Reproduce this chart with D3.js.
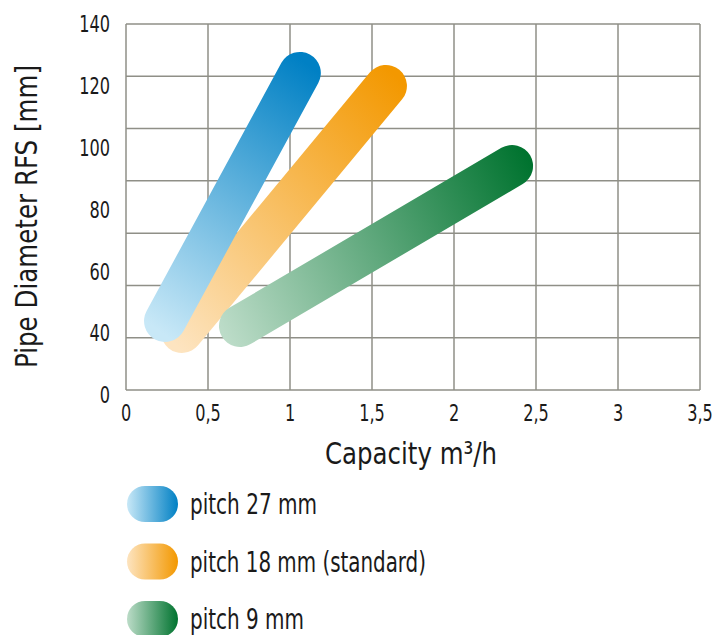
<!DOCTYPE html>
<html>
<head>
<meta charset="utf-8">
<script src="https://cdn.jsdelivr.net/npm/d3@7"></script>
<style>
  body { margin: 0; background: #fff; }
  text { font-family: "Liberation Sans Narrow", "DejaVu Sans Condensed", sans-serif; fill: #1a1a1a; }
</style>
</head>
<body>
<svg id="chart" width="716" height="635"></svg>
<script>
// chart data
var xTicks = [0, 0.5, 1, 1.5, 2, 2.5, 3, 3.5];
var xTickLabels = ['0', '0,5', '1', '1,5', '2', '2,5', '3', '3,5'];
var yGrid = [0, 20, 40, 60, 80, 100, 120, 140];
var yTickLabels = ['140', '120', '100', '80', '60', '40', '0'];

var seriesNames = ['pitch 18 mm (standard)', 'pitch 9 mm', 'pitch 27 mm'];
var pitch18 = [[0.341, 22.2], [1.585, 116.3]];
var pitch9 = [[0.695, 24.5], [2.354, 85.7]];
var pitch27 = [[0.238, 26.4], [1.06, 121.3]];
var legendOrder = ['pitch 27 mm', 'pitch 18 mm (standard)', 'pitch 9 mm'];
var legendWidths = [127, 236, 114];

var colors = {
  'pitch 27 mm': ['#c8e8f7', '#0080c4'],
  'pitch 18 mm (standard)': ['#fde4c0', '#f39800'],
  'pitch 9 mm': ['#bcdcc8', '#00732f']
};

var margin = {left: 126, right: 16, top: 24, bottom: 245};
var width = 716, height = 635;

var svg = d3.select('#chart');
var defs = svg.append('defs');

var x = d3.scaleLinear().domain([0, 3.5]).range([margin.left, width - margin.right]);
var y = d3.scaleLinear().domain([0, 140]).range([height - margin.bottom, margin.top]);
// tick labels in the original sit evenly over the height, not on the grid lines
var yLabel = d3.scalePoint().domain(yTickLabels).range([margin.top, height - margin.bottom + 5]);

var grid = svg.append('g');
grid.selectAll('line.v').data(xTicks).enter().append('line')
  .attr('x1', function(d) { return x(d); })
  .attr('x2', function(d) { return x(d); })
  .attr('y1', y(0)).attr('y2', y(140))
  .attr('stroke', '#8f8f87').attr('stroke-width', 1.5);
grid.selectAll('line.h').data(yGrid).enter().append('line')
  .attr('y1', function(d) { return y(d); })
  .attr('y2', function(d) { return y(d); })
  .attr('x1', x(0)).attr('x2', x(3.5))
  .attr('stroke', '#8f8f87').attr('stroke-width', 1.5);

// narrow the fallback font so it looks like the condensed original
function squeeze(sel, sx) {
  sel.attr('transform', function() {
    var t = d3.select(this);
    return 'translate(' + t.attr('data-x') + ',' + t.attr('data-y') + ') scale(' + sx + ',1)';
  });
}

svg.append('g').selectAll('text').data(xTicks).enter().append('text')
  .attr('data-x', function(d) { return x(d); })
  .attr('data-y', y(0) + 31)
  .attr('text-anchor', 'middle')
  .attr('font-size', 23)
  .text(function(d, i) { return xTickLabels[i]; })
  .call(squeeze, 0.78);

svg.append('g').selectAll('text').data(yTickLabels).enter().append('text')
  .attr('data-x', 110)
  .attr('data-y', function(d) { return yLabel(d); })
  .attr('dy', '0.36em')
  .attr('text-anchor', 'end')
  .attr('font-size', 23)
  .text(function(d) { return d; })
  .call(squeeze, 0.78);

svg.append('text')
  .attr('x', 325).attr('y', 464)
  .attr('font-size', 31)
  .attr('textLength', 172)
  .attr('lengthAdjust', 'spacingAndGlyphs')
  .text('Capacity m³/h');

svg.append('text')
  .attr('transform', 'translate(37,368) rotate(-90)')
  .attr('font-size', 31)
  .attr('textLength', 303)
  .attr('lengthAdjust', 'spacingAndGlyphs')
  .text('Pipe Diameter RFS [mm]');

// bands
var line = d3.line()
  .x(function(d) { return x(d[0]); })
  .y(function(d) { return y(d[1]); });

var bands = [pitch18, pitch9, pitch27];
bands.forEach(function(pts, i) {
  var name = seriesNames[i];
  var first = pts[0], last = pts[pts.length - 1];
  var id = 'grad' + i;
  var g = defs.append('linearGradient').attr('id', id)
    .attr('gradientUnits', 'userSpaceOnUse')
    .attr('x1', x(first[0]) - 20).attr('y1', y(first[1]))
    .attr('x2', x(last[0]) + 20).attr('y2', y(last[1]));
  g.append('stop').attr('offset', 0).attr('stop-color', colors[name][0]);
  g.append('stop').attr('offset', 1).attr('stop-color', colors[name][1]);

  svg.append('path')
    .datum(pts)
    .attr('d', line)
    .attr('fill', 'none')
    .attr('stroke', 'url(#' + id + ')')
    .attr('stroke-width', 42)
    .attr('stroke-linecap', 'round');
});

// legend
var legend = svg.append('g');
legendOrder.forEach(function(name, i) {
  var cy = 504 + i * 57.5;
  var id = 'lgrad' + i;
  var g = defs.append('linearGradient').attr('id', id);
  g.append('stop').attr('offset', 0).attr('stop-color', colors[name][0]);
  g.append('stop').attr('offset', 1).attr('stop-color', colors[name][1]);
  legend.append('rect')
    .attr('x', 127).attr('y', cy - 18)
    .attr('width', 51).attr('height', 36)
    .attr('rx', 18).attr('ry', 18)
    .attr('fill', 'url(#' + id + ')');
  legend.append('text')
    .attr('x', 190).attr('y', cy)
    .attr('dy', '0.36em')
    .attr('font-size', 28)
    .attr('textLength', legendWidths[i])
    .attr('lengthAdjust', 'spacingAndGlyphs')
    .text(name);
});
</script>
</body>
</html>
